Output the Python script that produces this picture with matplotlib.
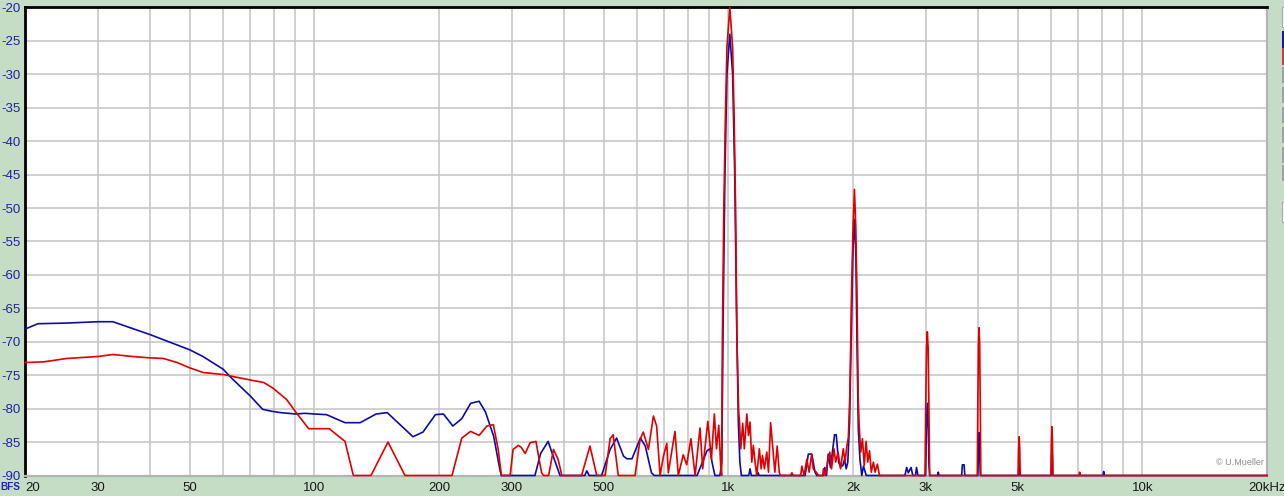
import numpy as np
import matplotlib
matplotlib.use('Agg')
import matplotlib.pyplot as plt
from matplotlib.ticker import FixedLocator, NullFormatter
from matplotlib.patches import Rectangle

plt.rcParams['font.family'] = ['Liberation Sans', 'DejaVu Sans']
plt.rcParams['axes.unicode_minus'] = False

# spectrum: (Hz, dBFS)
blue_pts = [
    (20, -68.1), (21.5, -67.3), (25.2, -67.2), (30, -67.0), (32.6, -67.0), (40, -68.9),
    (50, -71.2), (53.8, -72.2), (60.2, -74.1), (63.5, -75.6), (70, -78.1), (75, -80.1),
    (79, -80.4), (83, -80.6), (90, -80.8), (95, -80.7), (100, -80.8), (107, -80.9),
    (118.6, -82.1), (129, -82.1), (141, -80.8), (150, -80.6), (173, -84.2), (183, -83.5),
    (196, -80.9), (205, -80.8), (216, -82.6), (227, -81.5), (238.5, -79.2), (250, -78.9),
    (259, -80.5), (271, -84.1), (281, -89.3), (283, -90),
    (341, -90), (352, -86.7), (367, -84.9), (374, -86.4), (392, -90),
    (450, -90), (455, -89.3), (461, -90),
    (494, -90), (518, -86.1), (537, -84.4), (558, -87.1), (569, -87.5), (585, -87.5),
    (613, -84.4), (630, -85.6), (652, -89.6), (662, -90),
    (840, -90), (862, -88.3), (888, -86.3), (903, -86.0), (913, -88), (928, -90), (954, -90),
    (964, -88), (972, -65), (981, -45), (992, -30), (1008, -24), (1024, -30), (1036, -45),
    (1046, -65), (1057, -82), (1066, -88), (1075, -90),
    (1120, -90), (1128, -89), (1136, -90), (1175, -90), (1180, -89.6), (1186, -90),
    (1532, -90), (1560, -86.8), (1590, -86.8), (1619, -89.5), (1635, -90), (1700, -90),
    (1710, -88.8), (1726, -90), (1742, -86.8), (1765, -88.8), (1805, -83.9), (1822, -83.9),
    (1846, -88), (1866, -88.7), (1890, -88.5), (1908, -87.6), (1926, -89), (1943, -88),
    (1962, -82), (1982, -68), (2000, -56), (2016, -51.7), (2032, -57), (2045, -70),
    (2060, -83), (2079, -87.6), (2100, -90), (2120, -88.6), (2153, -90),
    (2670, -90), (2696, -88.8), (2720, -89.6), (2762, -88.8), (2790, -90), (2830, -90),
    (2848, -88.8), (2870, -90),
    (2995, -90), (3008, -83), (3024, -79.2), (3040, -83), (3052, -88.5), (3065, -90),
    (3200, -90), (3214, -89.5), (3228, -90),
    (3660, -90), (3675, -88.4), (3710, -88.4), (3725, -90),
    (4005, -90), (4018, -86.5), (4032, -83.6), (4046, -86.5), (4060, -90),
    (5022, -90), (5040, -88.4), (5058, -90),
    (6022, -90), (6036, -87), (6048, -86.4), (6060, -87), (6074, -90),
    (8040, -90), (8064, -89.4), (8090, -90), (20000, -90),
]

red_pts = [
    (20, -73.1), (22.2, -73.0), (25.2, -72.5), (30, -72.2), (32.6, -71.9), (36.4, -72.2),
    (40, -72.4), (43.2, -72.5), (46.6, -73.1), (50, -73.9), (53.9, -74.6), (60.3, -74.9),
    (66, -75.4), (75.5, -76.1), (79.3, -76.9), (85.6, -78.6), (90.4, -80.6), (96.9, -83.0),
    (108.6, -83.0), (118.6, -84.9), (124.2, -90), (137, -90), (150.6, -85.0), (165.5, -90),
    (215, -90), (227, -84.4), (238.5, -83.4), (250, -84.0), (261, -82.6), (270.6, -82.4),
    (278, -86.1), (283, -90), (297, -90), (302, -86.1), (311, -85.5), (316, -85.8),
    (323, -86.7), (332, -85.1), (343, -84.9), (350, -88), (354, -89.6), (358, -90),
    (368, -90), (378, -86.1), (388, -87.6), (396, -90), (442, -90), (463, -85.6),
    (481, -90), (504, -90), (518, -84.5), (527, -83.9), (542, -90), (595, -90),
    (612, -84.6), (623, -83.5), (641, -86.1), (659, -81.1), (671, -82.6), (684, -90),
    (697, -87.1), (710, -85.2), (716, -89.6), (743, -83.4), (757, -90), (778, -86.9),
    (793, -88.4), (812, -84.5), (831, -90), (854, -82.9), (867, -89), (892, -81.9),
    (910, -87.5), (925, -80.8), (936, -86), (948, -82.5), (959, -89),
    (963, -90), (967, -70), (975, -50), (983, -37), (992, -26), (1008, -20), (1024, -26),
    (1033, -37), (1041, -50), (1049, -70), (1059, -80.5), (1063, -81.6), (1071, -86),
    (1083, -82.2), (1093, -86), (1108, -80.8), (1118, -84), (1128, -82), (1139, -88),
    (1149, -85.5), (1160, -88), (1171, -90), (1188, -86), (1200, -89), (1209, -87),
    (1222, -89), (1238, -86.5), (1250, -89.5), (1265, -82.1), (1283, -86.5), (1295, -89.5),
    (1312, -85.6), (1327, -89.5), (1335, -90), (1411, -90), (1424, -89.6), (1435, -90),
    (1495, -90), (1505, -88.6), (1524, -90), (1547, -87.6), (1567, -89.5), (1589, -86.8),
    (1603, -89), (1635, -89.6), (1650, -90), (1690, -90), (1697, -89), (1715, -90),
    (1742, -87.5), (1758, -86.5), (1775, -89), (1799, -86), (1816, -88), (1840, -86.5),
    (1866, -89), (1895, -86), (1913, -88), (1931, -85.8), (1949, -84.3),
    (1965, -78), (1982, -64), (2000, -53), (2016, -47.2), (2032, -53), (2046, -64),
    (2058, -78), (2068, -82), (2088, -86.5), (2108, -84.5), (2129, -88.5), (2151, -84.9),
    (2171, -88), (2192, -86.3), (2214, -89.5), (2240, -88), (2262, -89.5), (2291, -88.3),
    (2317, -90),
    (2985, -90), (2997, -80), (3010, -71), (3024, -68.5), (3038, -71), (3051, -80), (3063, -90),
    (3992, -90), (4004, -80), (4018, -70.5), (4032, -67.9), (4046, -70.5), (4060, -80), (4072, -90),
    (5010, -90), (5025, -86), (5040, -84.2), (5055, -86), (5070, -90),
    (6015, -90), (6030, -85), (6048, -82.7), (6066, -85), (6080, -90),
    (7030, -90), (7056, -89.5), (7080, -90), (20000, -90),
]

x_ticks = [20, 30, 50, 100, 200, 300, 500, 1000, 2000, 3000, 5000, 10000, 20000]
x_labels = ['20', '30', '50', '100', '200', '300', '500', '1k', '2k', '3k', '5k', '10k', '20kHz']
x_grid_minor = [40, 60, 70, 80, 90, 400, 600, 700, 800, 900,
                4000, 6000, 7000, 8000, 9000]
y_ticks = list(range(-90, -19, 5))

blue_f, blue_db = zip(*blue_pts)
red_f, red_db = zip(*red_pts)

W, H = 1284, 496
bg = '#c4ddc4'
fig = plt.figure(figsize=(W / 100, H / 100), dpi=100, facecolor=bg)
ax = fig.add_axes([25 / W, 20.5 / H, 1242 / W, 468 / H])
ax.set_facecolor('white')

ax.plot(blue_f, blue_db, color='#0c0ca6', lw=1.2, zorder=3, clip_on=False)
ax.plot(red_f, red_db, color='#e00000', lw=1.2, zorder=4, clip_on=False)

ax.set_xscale('log')
ax.set_xlim(20, 20000)
ax.set_ylim(-90, -20)

ax.xaxis.set_major_locator(FixedLocator(x_ticks))
ax.xaxis.set_minor_locator(FixedLocator(x_grid_minor))
ax.xaxis.set_minor_formatter(NullFormatter())
ax.set_xticklabels(x_labels)
ax.set_yticks(y_ticks)
ax.set_yticklabels([str(v) for v in y_ticks])

ax.grid(True, which='both', color='#c4c4c4', lw=1.1, zorder=0)
ax.set_axisbelow(True)
ax.tick_params(which='both', length=0)
ax.tick_params(axis='x', pad=5, labelsize=9.5, labelcolor='#1a1a1a')
ax.tick_params(axis='y', pad=3, labelsize=9.5, labelcolor='#2020a8')
# first x label starts just right of the unit text
ax.get_xticklabels()[0].set_horizontalalignment('left')
ax.get_xticklabels()[0].set_x(19.5)

for s in ['left', 'top']:
    ax.spines[s].set_color('black')
    ax.spines[s].set_linewidth(2)
for s in ['right', 'bottom']:
    ax.spines[s].set_color('#b4b4b4')
    ax.spines[s].set_linewidth(1.6)

ax.text(0.9975, 0.018, '\u00a9 U.Mueller', transform=ax.transAxes, ha='right', va='bottom',
        fontsize=6.5, color='#8c8c8c')

fig.text(0.5 / W, 1 - 487 / H, 'BFS', ha='left', va='center', fontsize=7.2,
         fontweight='bold', color='#2020c0')

# little widgets on the right edge
def px_rect(y0, y1, color, edge='none'):
    fig.add_artist(Rectangle((1281.5 / W, 1 - y1 / H), 2.5 / W, (y1 - y0) / H,
                             transform=fig.transFigure, facecolor=color, edgecolor=edge, lw=0.5))

px_rect(7, 27, '#f4f4f4', '#909090')
px_rect(31, 48, '#1a1a90')
px_rect(48, 65, '#c04040')
for y0 in [67, 87, 107, 127, 147, 165]:
    px_rect(y0, y0 + 16, '#a0a0a0')
px_rect(202, 222, '#f4f4f4', '#909090')

fig.savefig('out.png', dpi=100, facecolor=bg)
